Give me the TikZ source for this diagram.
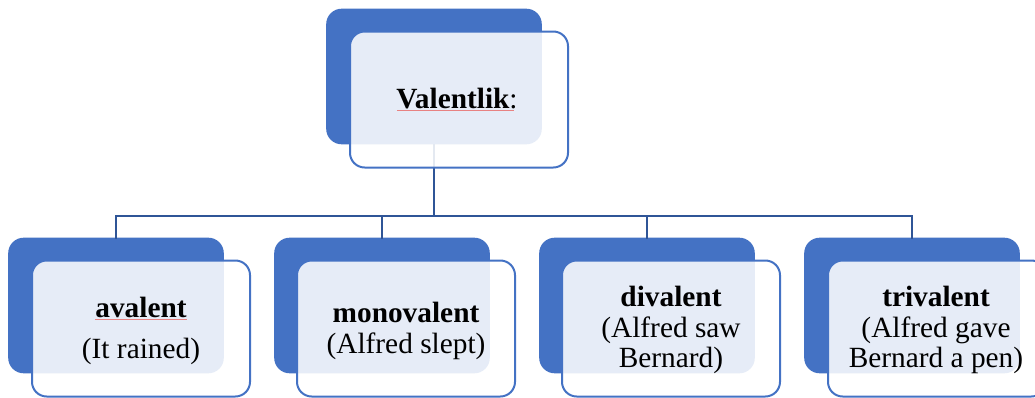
\documentclass[tikz,border=0pt]{standalone}
\usepackage{fontspec}
\setmainfont{Liberation Serif}
\definecolor{boxblue}{HTML}{4472C4}
\definecolor{linkblue}{HTML}{2F5597}
\definecolor{squig}{RGB}{232,130,130}
\begin{document}
\begin{tikzpicture}[x=0.75pt,y=-0.75pt,
  back/.style={draw=boxblue,fill=boxblue,line width=1.2pt,rounded corners=11pt,
    minimum width=160.5pt,minimum height=100.5pt,inner sep=0pt,outer sep=0pt},
  front/.style={draw=boxblue,line width=1.5pt,rounded corners=11pt,fill=white,fill opacity=0.87,
    minimum width=163.5pt,minimum height=102pt,inner sep=0pt,outer sep=0pt},
  link/.style={draw=linkblue,line width=2pt},
  txt/.style={anchor=base,inner sep=0pt,font=\fontsize{22}{24}\selectfont},
  btxt/.style={txt,font=\fontsize{22}{24}\selectfont\bfseries},
  squiggle/.style={draw=squig,line width=0.6pt}]
\useasboundingbox (0,0) rectangle (1035,397);
% hub of the tree
\coordinate (hub) at (434,216);
% back (blue) boxes
\node[back] (b0) at (434,76.5) {};
\node[back] (b1) at (116,305.5) {};
\node[back] (b2) at (382,305.5) {};
\node[back] (b3) at (647,305.5) {};
\node[back] (b4) at (912,305.5) {};
% connectors
\draw[link] (b0.south) -- (hub);
\draw[link] (b1.north) |- (hub);
\draw[link] (b2.north) |- (hub);
\draw[link] (b3.north) |- (hub);
\draw[link] (b4.north) |- (hub);
% front boxes
\node[front] (f0) at (459,99.5) {};
\node[front] (f1) at (141,328.5) {};
\node[front] (f2) at (406,328.5) {};
\node[front] (f3) at (671,328.5) {};
\node[front] (f4) at (937,328.5) {};
% texts
\node[btxt] (t0) at (457,108) {Valentlik\textmd{:}};
\draw[squiggle] (397,110) -- (514,110);
\node[btxt] (t1a) at (141,317) {avalent};
\draw[squiggle] (95,319) -- (187,319);
\node[txt] (t1b) at (141,358) {(It rained)};
\node[btxt] (t2a) at (406,322) {monovalent};
\node[txt] (t2b) at (406,353) {(Alfred slept)};
\node[btxt] (t3a) at (671,306) {divalent};
\node[txt] (t3b) at (671,337) {(Alfred saw};
\node[txt] (t3c) at (671,367) {Bernard)};
\node[btxt] (t4a) at (936,306) {trivalent};
\node[txt] (t4b) at (936,337) {(Alfred gave};
\node[txt] (t4c) at (936,367) {Bernard a pen)};
\end{tikzpicture}
\end{document}
